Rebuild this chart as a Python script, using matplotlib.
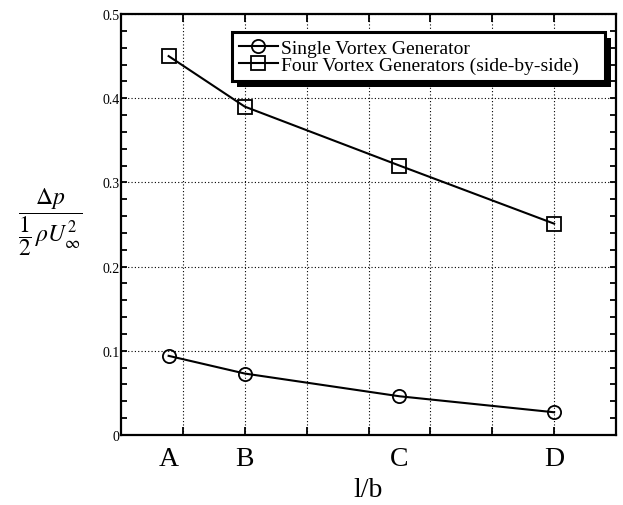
import matplotlib
matplotlib.use("Agg")
import matplotlib.pyplot as plt
import matplotlib.patheffects as pe
import numpy as np

plt.rcParams['font.family'] = ['Liberation Serif', 'DejaVu Serif']
plt.rcParams['mathtext.fontset'] = 'stix'

categories = ['A', 'B', 'C', 'D']
cat_pos = [0.77, 2.0, 4.5, 7.0]
single_vg = [0.094, 0.073, 0.046, 0.027]
four_vg = [0.450, 0.390, 0.320, 0.251]
series_labels = ['Single Vortex Generator', 'Four Vortex Generators (side-by-side)']
y_ticks = [0, 0.1, 0.2, 0.3, 0.4, 0.5]
y_ticklabels = ['0', '0.1', '0.2', '0.3', '0.4', '0.5']

fig = plt.figure(figsize=(6.23, 5.06), dpi=100)
ax = fig.add_axes([121/623, 1-436/506, 495/623, 421/506])

ax.plot(cat_pos, single_vg, color='k', lw=1.5, marker='o', ms=9.5,
        mfc='none', mec='k', mew=1.3, label=series_labels[0])
ax.plot(cat_pos, four_vg, color='k', lw=1.5, marker='s', ms=9.5,
        mfc='none', mec='k', mew=1.3, label=series_labels[1])

ax.set_xlim(0, 8)
ax.set_ylim(0, 0.5)

ax.xaxis.remove_overlapping_locs = False
ax.set_xticks(np.arange(1, 8))
ax.set_xticklabels([])
ax.set_xticks(cat_pos, categories, minor=True)
ax.tick_params(axis='x', which='major', direction='in', length=6, width=1.3,
               top=True, bottom=True)
ax.tick_params(axis='x', which='minor', length=0, pad=8, labelsize=20)

ax.set_yticks(y_ticks, y_ticklabels)
ax.set_yticks(np.arange(0, 0.5001, 0.02), minor=True)
ax.tick_params(axis='y', which='both', direction='in', length=4, width=1.3,
               left=True, right=True, labelsize=10, pad=1)

ax.grid(True, which='major', color='k', lw=0.8, linestyle=(0, (1, 2)))
for s in ax.spines.values():
    s.set_linewidth(1.6)

ax.set_xlabel('l/b', fontsize=20, labelpad=4)

fig.text(50/623, 1-222/506,
         r'$\dfrac{\Delta p}{\dfrac{1}{2}\,\rho U_{\infty}^{2}}$',
         fontsize=17, ha='center', va='center')

leg = ax.legend(loc='upper left', bbox_to_anchor=(0.224, 0.857, 0.754, 0.1),
                mode='expand', borderaxespad=0, fontsize=14, handlelength=2.0,
                handletextpad=0.2, labelspacing=0.0, borderpad=0.35,
                fancybox=False, framealpha=1, edgecolor='k')
frame = leg.get_frame()
frame.set_linewidth(2.2)
frame.set_path_effects([pe.SimplePatchShadow(offset=(4, -4), shadow_rgbFace='k', alpha=1),
                        pe.Normal()])

fig.savefig('out.png', dpi=100)
